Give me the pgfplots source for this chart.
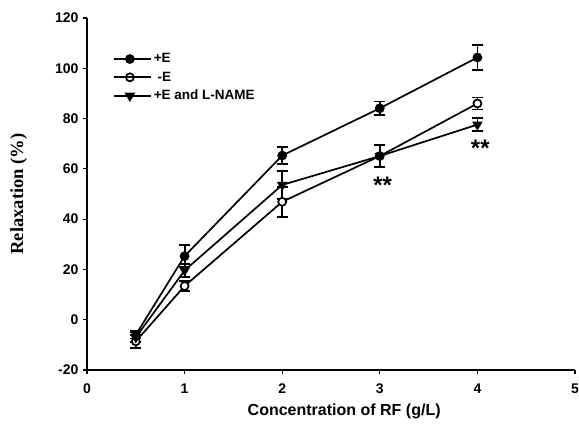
\documentclass[border=0pt]{standalone}
\usepackage{pgfplots}
\pgfplotsset{compat=1.18}
\usepackage{fontspec}
\setmainfont{Liberation Sans}
\newfontfamily\serifb{Liberation Serif}
\begin{document}
\begin{tikzpicture}[x=1bp,y=1bp]
\useasboundingbox (-87,-61) rectangle (492,370);
\begin{axis}[
  at={(0,0)}, anchor=south west,
  scale only axis,
  width=488bp, height=352bp,
  xmin=0, xmax=5, ymin=-20, ymax=120,
  axis lines=left,
  axis line style={line width=2bp, -},
  xtick={0,1,2,3,4,5},
  ytick={-20,0,20,40,60,80,100,120},
  tick align=outside,
  tick style={line width=1.2bp, black},
  major tick length=4bp,
  /pgf/number format/assume math mode=true,
  ticklabel style={font=\fontsize{14bp}{16bp}\selectfont\bfseries},
  xticklabel style={yshift=-6bp},
  yticklabel style={xshift=-1bp},
  xlabel={\fontsize{16bp}{18bp}\selectfont\bfseries Concentration of RF (g/L)},
  ylabel={\fontsize{18.5bp}{20bp}\selectfont\serifb\bfseries Relaxation (\%)},
  xlabel style={at={(axis description cs:0.527,-0.117)}, anchor=center},
  ylabel style={at={(axis description cs:-0.14,0.5)}, anchor=center},
  clip=false,
  legend style={draw=none, fill=none, at={(0.053,0.905)}, anchor=north west,
    font=\fontsize{13.5bp}{15bp}\selectfont\bfseries, row sep=3.5bp, inner sep=0bp},
  legend cell align=left,
  legend image code/.code={\draw[mark repeat=2,mark phase=2,#1] plot coordinates {(0bp,0bp)(16bp,0bp)(32bp,0bp)}; \path (0bp,0bp) -- (37bp,0bp);},
  error bars/error bar style={line width=1.8bp},
  error bars/error mark options={rotate=90, mark size=5.5bp, line width=1.8bp},
]
\addplot[black, line width=1.7bp, mark=*, mark size=4bp, mark options={fill=black, solid},
  error bars/.cd, y dir=both, y explicit]
  coordinates {(0.5,-6) +- (0,1.5) (1,25.3) +- (0,4.4) (2,65.3) +- (0,3.4) (3,84.1) +- (0,2.7) (4,104.3) +- (0,5)};
\addlegendentry{+E}
\addplot[black, line width=1.7bp, mark=*, mark size=4bp, mark options={fill=white, solid},
  error bars/.cd, y dir=both, y explicit]
  coordinates {(0.5,-8.6) +- (0,2.5) (1,13.4) +- (0,2) (2,46.9) +- (0,6) (3,65.1) +- (0,4.3) (4,86) +- (0,2.4)};
\addlegendentry{\ -E}
\addplot[black, line width=1.7bp, mark=triangle*, mark size=4.5bp, mark options={fill=black, solid, rotate=180},
  error bars/.cd, y dir=both, y explicit]
  coordinates {(0.5,-7) +- (0,2) (1,19.6) +- (0,2.7) (2,53.6) +- (0,5.5) (3,65.1) +- (0,4.3) (4,77.6) +- (0,2.7)};
\addlegendentry{+E and L-NAME}
\node[font=\fontsize{24bp}{24bp}\selectfont\bfseries] at (axis cs:3.03,53.5) {**};
\node[font=\fontsize{24bp}{24bp}\selectfont\bfseries] at (axis cs:4.03,68.3) {**};
\end{axis}
\end{tikzpicture}
\end{document}
